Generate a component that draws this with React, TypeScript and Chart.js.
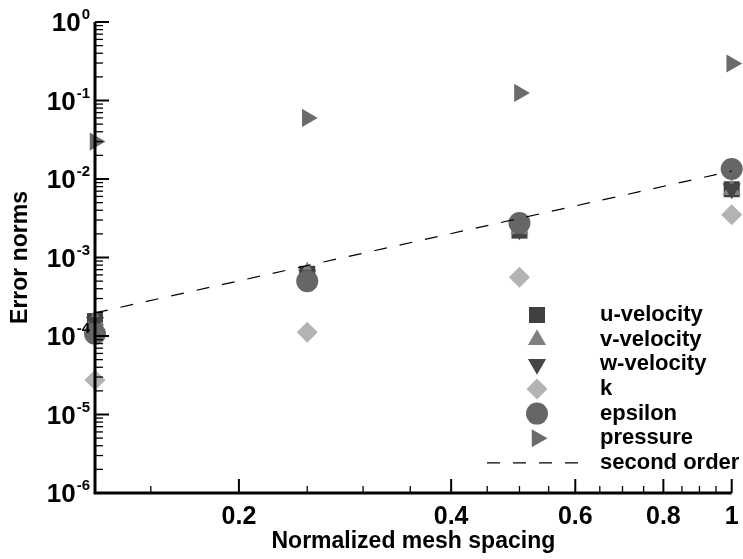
import React, { useEffect, useRef } from "react";
import { Chart, registerables } from "chart.js";
import { drawPoint } from "chart.js/helpers";

Chart.register(...registerables);

// ---------------- data ----------------
const meshSpacing = [0.125, 0.25, 0.5, 1];
const uVelocity = [1.55e-4, 6.2e-4, 2.2e-3, 7.4e-3];
const vVelocity = [1.6e-4, 6.5e-4, 2.3e-3, 7.3e-3];
const wVelocity = [1.5e-4, 6.0e-4, 2.25e-3, 7.5e-3];
const kNorm = [2.75e-5, 1.12e-4, 5.6e-4, 3.5e-3];
const epsilonNorm = [1.07e-4, 5.0e-4, 2.75e-3, 1.34e-2];
const pressureNorm = [3.0e-2, 6.0e-2, 0.125, 0.296];
const secondOrderX = [0.125, 1];
const secondOrderY = [1.97e-4, 1.26e-2];

const seriesLabels = ["u-velocity", "v-velocity", "w-velocity", "k", "epsilon", "pressure", "second order"];

const xMajorTicks = [0.2, 0.4, 0.6, 0.8, 1];
const xTickLabels = ["0.2", "0.4", "0.6", "0.8", "1"];
const xMinorTicks = [0.15, 0.25, 0.3, 0.35, 0.45, 0.5, 0.55, 0.65, 0.7, 0.75, 0.85, 0.9, 0.95];
const yExponents = [-6, -5, -4, -3, -2, -1, 0];
const yExponentLabels = ["-6", "-5", "-4", "-3", "-2", "-1", "0"];

const FONT = "'Liberation Sans', Arial, Helvetica, sans-serif";

const pts = (ys: number[], xs: number[] = meshSpacing) => xs.map((x, i) => ({ x, y: ys[i] }));

const markerStyles = [
  { pointStyle: "rect", rotation: 0, radius: 11.3, color: "#404040" },
  { pointStyle: "triangle", rotation: 0, radius: 10.5, color: "#808080" },
  { pointStyle: "triangle", rotation: 180, radius: 10.5, color: "#454545" },
  { pointStyle: "rectRot", rotation: 0, radius: 10.5, color: "#b3b3b3" },
  { pointStyle: "circle", rotation: 0, radius: 11, color: "#666666" },
  { pointStyle: "triangle", rotation: 90, radius: 10.5, color: "#6b6b6b" },
];

const seriesValues = [uVelocity, vVelocity, wVelocity, kNorm, epsilonNorm, pressureNorm];

const axesPlugin = {
  id: "axesPlugin",
  afterDatasetsDraw(chart: any) {
    const { ctx, chartArea } = chart;
    const xs = chart.scales.x;
    const ys = chart.scales.y;
    const { left, right, top, bottom } = chartArea;
    ctx.save();
    ctx.strokeStyle = "#000";
    ctx.setLineDash([]);
    // axis lines
    ctx.lineWidth = 3;
    ctx.beginPath();
    ctx.moveTo(left, top);
    ctx.lineTo(left, bottom);
    ctx.lineTo(right, bottom);
    ctx.stroke();
    // y ticks
    yExponents.forEach((e) => {
      const y = ys.getPixelForValue(Math.pow(10, e));
      ctx.lineWidth = 2;
      ctx.beginPath();
      ctx.moveTo(left, y);
      ctx.lineTo(left + 14, y);
      ctx.stroke();
      if (e < 0) {
        for (let m = 2; m <= 9; m++) {
          const yy = ys.getPixelForValue(m * Math.pow(10, e));
          ctx.lineWidth = 1.3;
          ctx.beginPath();
          ctx.moveTo(left, yy);
          ctx.lineTo(left + 8, yy);
          ctx.stroke();
        }
      }
    });
    // x ticks
    xMajorTicks.forEach((v) => {
      const x = xs.getPixelForValue(v);
      ctx.lineWidth = 2;
      ctx.beginPath();
      ctx.moveTo(x, bottom);
      ctx.lineTo(x, bottom - 14);
      ctx.stroke();
    });
    xMinorTicks.forEach((v) => {
      const x = xs.getPixelForValue(v);
      ctx.lineWidth = 1.3;
      ctx.beginPath();
      ctx.moveTo(x, bottom);
      ctx.lineTo(x, bottom - 7);
      ctx.stroke();
    });
    // y tick labels with superscripts
    ctx.fillStyle = "#000";
    ctx.textAlign = "right";
    ctx.textBaseline = "alphabetic";
    yExponents.forEach((e, i) => {
      const y = ys.getPixelForValue(Math.pow(10, e));
      const rightEdge = left - 5;
      ctx.font = `bold 15px ${FONT}`;
      const expText = yExponentLabels[i];
      const w = ctx.measureText(expText).width;
      ctx.fillText(expText, rightEdge, y - 3);
      ctx.font = `bold 26px ${FONT}`;
      ctx.fillText("10", rightEdge - w - 1, y + 9);
    });
    ctx.restore();
  },
};

const legendPlugin = {
  id: "customLegend",
  afterDatasetsDraw(chart: any) {
    const { ctx } = chart;
    const markerX = 537;
    const textX = 600;
    const startY = 315;
    const step = 24.65;
    ctx.save();
    seriesLabels.forEach((label, i) => {
      const y = startY + i * step;
      if (i < markerStyles.length) {
        const s = markerStyles[i];
        ctx.fillStyle = s.color;
        ctx.strokeStyle = s.color;
        drawPoint(ctx, { pointStyle: s.pointStyle as any, rotation: s.rotation, radius: s.radius, borderWidth: 0 }, markerX, y);
      } else {
        ctx.strokeStyle = "#000";
        ctx.lineWidth = 1.3;
        ctx.setLineDash([13, 13]);
        ctx.beginPath();
        ctx.moveTo(487, y);
        ctx.lineTo(581, y);
        ctx.stroke();
        ctx.setLineDash([]);
      }
      ctx.fillStyle = "#000";
      ctx.font = `bold 22px ${FONT}`;
      ctx.textAlign = "left";
      ctx.textBaseline = "alphabetic";
      ctx.fillText(label, textX, y + 6);
    });
    ctx.restore();
  },
};

export default function App() {
  const canvasRef = useRef<HTMLCanvasElement>(null);

  useEffect(() => {
    if (!canvasRef.current) return;
    const markerDatasets = seriesValues.map((vals, i) => {
      const s = markerStyles[i];
      return {
        label: seriesLabels[i],
        data: pts(vals),
        showLine: false,
        pointStyle: s.pointStyle,
        rotation: s.rotation,
        pointRadius: s.radius,
        pointHoverRadius: s.radius,
        pointBackgroundColor: s.color,
        pointBorderColor: s.color,
        pointBorderWidth: 0,
        backgroundColor: s.color,
        borderColor: s.color,
        clip: false,
        order: 6 - i,
      };
    });
    const lineDataset = {
      label: seriesLabels[6],
      data: pts(secondOrderY, secondOrderX),
      showLine: true,
      pointRadius: 0,
      borderColor: "#000",
      borderWidth: 1.2,
      borderDash: [13, 13],
      fill: false,
      clip: false,
      order: 0,
    };

    const chart = new Chart(canvasRef.current, {
      type: "scatter",
      data: { datasets: [...markerDatasets, lineDataset] as any },
      options: {
        animation: false,
        responsive: true,
        maintainAspectRatio: false,
        layout: { padding: { left: 0, right: 3, top: 22, bottom: 0 } },
        plugins: {
          legend: { display: false },
          tooltip: { enabled: false },
        },
        scales: {
          x: {
            type: "logarithmic",
            min: 0.125,
            max: 1,
            grid: { display: false },
            border: { display: false },
            afterBuildTicks: (scale: any) => {
              scale.ticks = xMajorTicks.map((v) => ({ value: v }));
            },
            afterFit: (scale: any) => {
              scale.height = 66;
            },
            ticks: {
              autoSkip: false,
              maxRotation: 0,
              padding: 1,
              color: "#000",
              font: { family: FONT, size: 25, weight: "bold" },
              callback: (value: any) => {
                const idx = xMajorTicks.indexOf(Number(value));
                return idx >= 0 ? xTickLabels[idx] : "";
              },
            },
            title: {
              display: true,
              text: "Normalized mesh spacing",
              color: "#000",
              font: { family: FONT, size: 23, weight: "bold" },
              padding: { top: 0, bottom: 4 },
            },
          },
          y: {
            type: "logarithmic",
            min: 1e-6,
            max: 1,
            grid: { display: false },
            border: { display: false },
            afterBuildTicks: (scale: any) => {
              scale.ticks = yExponents.map((e) => ({ value: Math.pow(10, e) }));
            },
            afterFit: (scale: any) => {
              scale.width = 95;
            },
            ticks: { display: false },
            title: {
              display: true,
              text: "Error norms",
              color: "#000",
              font: { family: FONT, size: 23, weight: "bold" },
              padding: { top: 7, bottom: 0 },
            },
          },
        },
      } as any,
      plugins: [axesPlugin, legendPlugin],
    });
    return () => chart.destroy();
  }, []);

  return (
    <div style={{ position: "fixed", left: 0, top: 0, width: 743, height: 559, background: "#fff" }}>
      <canvas ref={canvasRef} />
    </div>
  );
}
